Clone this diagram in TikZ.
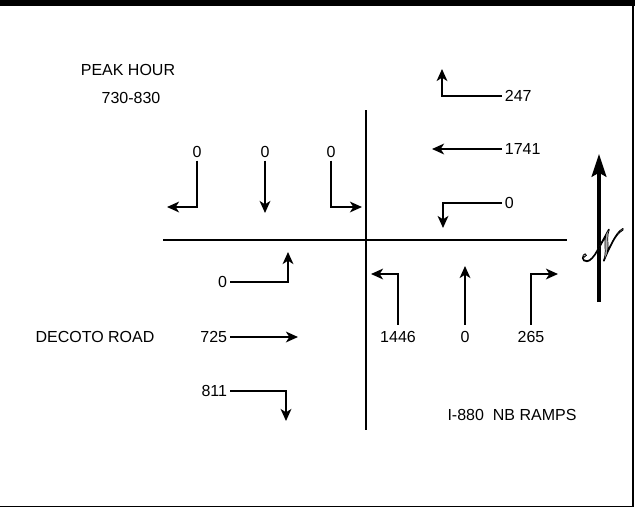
\documentclass[tikz,border=0pt]{standalone}
\usepackage{fontspec}
\setmainfont{Liberation Sans}
\usepackage{mathrsfs}
\usetikzlibrary{arrows.meta}

\begin{document}
\begin{tikzpicture}[
  x=0.75pt, y=-0.75pt,
  every node/.style={font=\fontsize{12}{14}\selectfont, inner sep=2pt},
  road/.style={line width=1.8pt},
  move/.style={
    line width=1.6pt,
    -{Stealth[length=9pt,width=8pt,inset=2.5pt]}
  },
  vol/.style={inner sep=2pt},
  volup/.style={inner sep=2pt, outer sep=3pt}
]
  \useasboundingbox (0,0) rectangle (635,508);
  % frame
  \fill (0,0) rectangle (635,5.5);
  \draw[line width=1pt] (633,0) -- (633,506.5) -- (0,506.5);

  % titles
  \node (peak) at (128,70) {PEAK HOUR};
  \node (time) at (131,98) {730-830};
  \node (decoto) at (95,337) {DECOTO ROAD};
  \node (ramps) at (512,415) {I-880\ \ NB RAMPS};

  % roads
  \coordinate (rw) at (163,240);
  \coordinate (re) at (567,240);
  \coordinate (rn) at (366,110);
  \coordinate (rs) at (366,430);
  \draw[road] (rw) -- (re);
  \draw[road] (rn) -- (rs);

  % southbound approach
  \node[vol] (sl) at (197,152) {0};
  \node[vol] (st) at (265,152) {0};
  \node[vol] (sr) at (331,152) {0};
  \draw[move] (sl.south) |- (167,207);
  \draw[move] (st.south) -- (265,213);
  \draw[move] (sr.south) |- (362,207);

  % westbound approach
  \node[vol, anchor=west] (el) at (502,96) {247};
  \node[vol, anchor=west] (et) at (502,149) {1741};
  \node[vol, anchor=west] (er) at (502,203) {0};
  \draw[move] (el.west) -| (442,69);
  \draw[move] (et.west) -- (432,149);
  \draw[move] (er.west) -| (443,228);

  % eastbound approach
  \node[vol, anchor=east] (wl) at (230,282) {0};
  \node[vol, anchor=east] (wt) at (230,337) {725};
  \node[vol, anchor=east] (wr) at (230,391) {811};
  \draw[move] (wl.east) -| (288,252);
  \draw[move] (wt.east) -- (298,337);
  \draw[move] (wr.east) -| (286,421);

  % northbound approach
  \node[volup] (nl) at (398,337) {1446};
  \node[volup] (nt) at (465,337) {0};
  \node[volup] (nr) at (531,337) {265};
  \draw[move] (nl.north) |- (371,274);
  \draw[move] (nt.north) -- (465,266);
  \draw[move] (nr.north) |- (558,274);

  % north arrow
  \coordinate (ns) at (599,302);
  \coordinate (nn) at (599,154);
  \draw[line width=3pt, -{Stealth[length=17pt,width=11pt,inset=3pt]}] (ns) -- (nn);
  \node[text=gray!60, inner sep=0pt, xscale=1.05, yscale=1.35] (north) at (603,245)
    {\fontsize{24.88}{25}\selectfont\special{pdf:code 2 Tr 0 G 0.5 w}$\mathscr{N}$\special{pdf:code 0 Tr}};
\end{tikzpicture}
\end{document}
